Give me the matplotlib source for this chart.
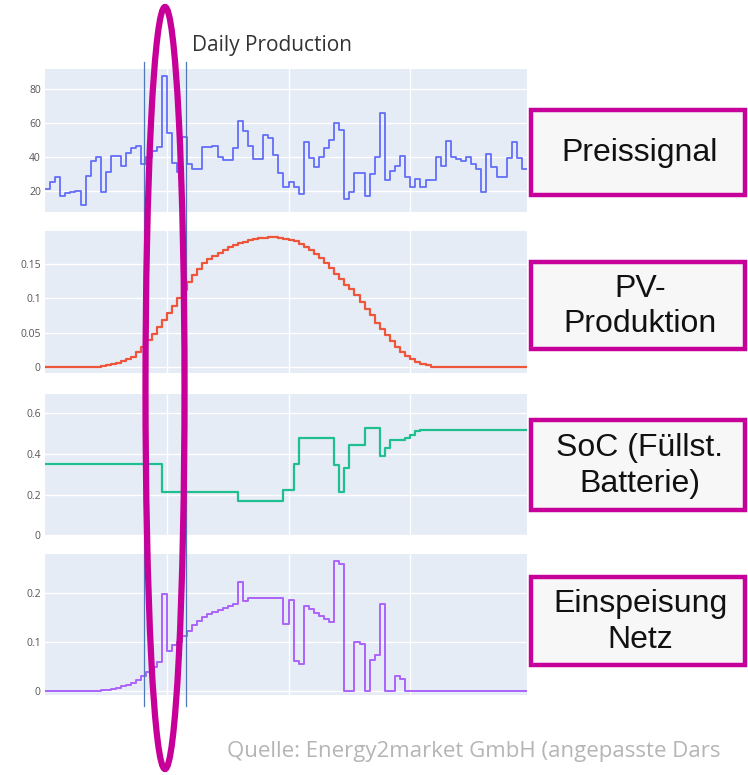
import matplotlib
matplotlib.use("Agg")
import matplotlib.pyplot as plt
from matplotlib.patches import Ellipse, Rectangle
from matplotlib.lines import Line2D

# ---------------- data (15-min resolution, 96 slots) ----------------
price = [21, 25, 28, 16.5, 18.5, 19, 20, 11.5, 28.7, 37.7,
         39.7, 19.4, 30.8, 40.7, 40.7, 34.6, 42.4, 45.2, 46.4, 35.7,
         40, 43.6, 45.6, 87.7, 54, 36.5, 31.2, 51.5, 35.7, 33,
         33, 46, 46, 46.4, 40, 38, 38, 45, 61.3, 55.4,
         46.4, 38.7, 38.7, 52.9, 51, 41, 30.2, 22.4, 25.3, 22.4,
         18, 49, 39, 34, 40, 45, 50, 60, 56, 15,
         19, 30.6, 30.6, 16.5, 30, 40, 65.7, 26.3, 31.8, 34.6,
         40.5, 27.9, 22, 26.7, 22.4, 26, 26, 40, 34.6, 49.5,
         40, 38.5, 37.7, 40, 35.7, 32.6, 19.4, 41.6, 34, 28.3,
         28.3, 39, 49, 39, 32.6, 32.6]

pv = [0, 0, 0, 0, 0, 0, 0, 0, 0, 0,
      0, 0.001, 0.002, 0.004, 0.006, 0.009, 0.012, 0.015, 0.021, 0.029,
      0.039, 0.048, 0.058, 0.068, 0.078, 0.088, 0.100, 0.112, 0.123, 0.134,
      0.143, 0.151, 0.157, 0.162, 0.166, 0.170, 0.174, 0.177, 0.180, 0.182,
      0.185, 0.187, 0.188, 0.188, 0.189, 0.189, 0.188, 0.187, 0.185, 0.183,
      0.179, 0.175, 0.170, 0.164, 0.158, 0.151, 0.144, 0.136, 0.128, 0.120,
      0.113, 0.104, 0.095, 0.085, 0.075, 0.064, 0.055, 0.046, 0.037, 0.029,
      0.022, 0.016, 0.011, 0.007, 0.004, 0.002, 0, 0, 0, 0,
      0, 0, 0, 0, 0, 0, 0, 0, 0, 0,
      0, 0, 0, 0, 0, 0]

soc = [0.349] * 23 + [0.215] * 15 + [0.171] * 9 + [0.224, 0.224, 0.351] + \
      [0.477] * 7 + [0.346, 0.212, 0.333, 0.444, 0.444, 0.444, 0.526, 0.526, 0.526,
                     0.392, 0.431, 0.469, 0.469, 0.469, 0.48, 0.493, 0.51] + [0.518] * 22

grid = [0, 0, 0, 0, 0, 0, 0, 0, 0, 0,
        0, 0.001, 0.002, 0.004, 0.006, 0.009, 0.012, 0.015, 0.021, 0.029,
        0.039, 0.048, 0.058, 0.198, 0.0815, 0.094, 0.100, 0.112, 0.123, 0.134,
        0.143, 0.151, 0.157, 0.162, 0.166, 0.170, 0.174, 0.177, 0.223, 0.184,
        0.190, 0.190, 0.190, 0.190, 0.190, 0.190, 0.190, 0.136, 0.186, 0.060,
        0.054, 0.174, 0.167, 0.160, 0.153, 0.146, 0.140, 0.265, 0.260, 0,
        0, 0.100, 0.095, 0, 0.063, 0.072, 0.177, 0, 0, 0.029,
        0.024, 0, 0, 0, 0, 0, 0, 0, 0, 0,
        0, 0, 0, 0, 0, 0, 0, 0, 0, 0,
        0, 0, 0, 0, 0, 0]

hours = [i * 0.25 for i in range(96)]

price_ticks = [20, 40, 60, 80]
pv_ticks = [0, 0.05, 0.1, 0.15]
soc_ticks = [0, 0.2, 0.4, 0.6]
grid_ticks = [0, 0.1, 0.2]
pv_ticklabels = ["0", "0.05", "0.1", "0.15"]
soc_ticklabels = ["0", "0.2", "0.4", "0.6"]
grid_ticklabels = ["0", "0.1", "0.2"]

box_labels = ["Preissignal", "PV-\nProduktion", "SoC (Füllst.\nBatterie)", "Einspeisung\nNetz"]
title = "Daily Production"
source = "Quelle: Energy2market GmbH (angepasste Dars"

# ---------------- figure ----------------
W, H = 748, 775
fig = plt.figure(figsize=(W / 100, H / 100), dpi=100)
fig.patch.set_facecolor("white")

def fx(px):
    return px / W

def fy(py):
    return 1 - py / H

panels = [
    (69, 212, price, "#636efa", (7.3, 92), price_ticks, [str(t) for t in price_ticks], 1.3),
    (231, 373, pv, "#ef553b", (-0.009, 0.198), pv_ticks, pv_ticklabels, 1.6),
    (394, 536, soc, "#1fbf8f", (-0.003, 0.694), soc_ticks, soc_ticklabels, 1.6),
    (554, 695, grid, "#ab63fa", (-0.009, 0.28), grid_ticks, grid_ticklabels, 1.4),
]

left, right = 45, 527
for top, bot, vals, col, ylim, ticks, tlabels, lw in panels:
    ax = fig.add_axes([fx(left), fy(bot), fx(right - left), (bot - top) / H])
    ax.set_facecolor("#e5ecf6")
    ax.step(hours, vals, where="post", color=col, lw=lw, zorder=3)
    ax.set_xlim(0, 23.75)
    ax.set_ylim(*ylim)
    ax.set_yticks(ticks)
    ax.set_yticklabels(tlabels, fontsize=7.5, color="#555555", fontfamily="Open Sans")
    ax.set_xticks([6, 12, 18])
    ax.set_xticklabels([])
    ax.tick_params(length=0, pad=3)
    ax.grid(True, color="white", lw=1.0, zorder=1)
    ax.set_axisbelow(True)
    for s in ax.spines.values():
        s.set_visible(False)

fig.text(fx(272), fy(46), title, ha="center", va="center",
         fontsize=15, color="#333333", fontfamily="Open Sans")

# thin selection lines
for xp in (144, 186):
    fig.add_artist(Line2D([fx(xp), fx(xp)], [fy(62), fy(706)], color="#4f79b8", lw=0.9,
                          transform=fig.transFigure, zorder=5))

# magenta ellipse
fig.add_artist(Ellipse((fx(165), fy(388)), width=fx(39), height=762 / H,
                       transform=fig.transFigure, fill=False, edgecolor="#c8009a",
                       lw=4.5, zorder=6))

# right boxes
boxes = [(110, 195), (262, 349), (420, 510), (577, 665)]
for (t, b), lab in zip(boxes, box_labels):
    fig.add_artist(Rectangle((fx(531), fy(b)), fx(214), (b - t) / H, transform=fig.transFigure,
                             facecolor="#f7f7f7", edgecolor="#c8009a", lw=3.2, zorder=6))
    fig.text(fx(640), fy((t + b) / 2 + 1), lab, ha="center", va="center", fontsize=23,
             fontfamily="Liberation Sans", color="#111111", linespacing=1.25, zorder=7)

fig.text(fx(227), fy(751), source, ha="left", va="center", fontsize=16,
         color="#b5b5b5", fontfamily="Open Sans")

fig.savefig("out.png", dpi=100)
